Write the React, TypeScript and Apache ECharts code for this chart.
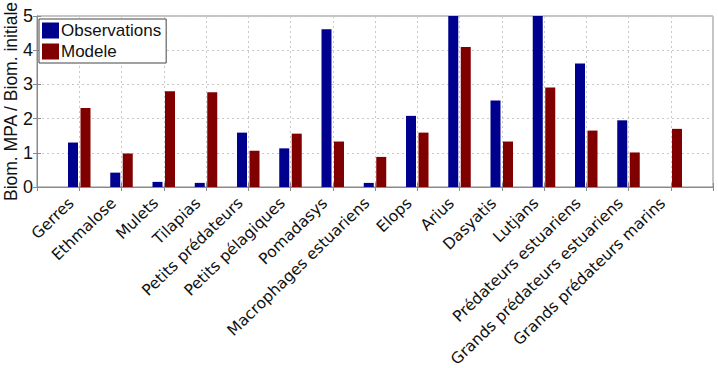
import React, { useEffect, useRef } from "react";
import * as echarts from "echarts";

// Species groups, placed at x = 1..15 on a 0..16 value axis
const groups = [
  "Gerres",
  "Ethmalose",
  "Mulets",
  "Tilapias",
  "Petits prédateurs",
  "Petits pélagiques",
  "Pomadasys",
  "Macrophages estuariens",
  "Elops",
  "Arius",
  "Dasyatis",
  "Lutjans",
  "Prédateurs estuariens",
  "Grands prédateurs estuariens",
  "Grands prédateurs marins",
];

// Ratio of MPA biomass to initial biomass
const observations = [1.3, 0.42, 0.15, 0.12, 1.59, 1.13, 4.61, 0.12, 2.08, 5.4, 2.53, 5.3, 3.61, 1.95, 0];
const modele = [2.31, 0.98, 2.8, 2.77, 1.06, 1.56, 1.33, 0.88, 1.59, 4.09, 1.33, 2.91, 1.65, 1.01, 1.7];

const yTicks = [0, 1, 2, 3, 4, 5];

const FONT = "'Liberation Sans', Arial, Helvetica, sans-serif";
const WIDE_FONT = "'DejaVu Sans', 'Liberation Sans', sans-serif";

export default function App() {
  const ref = useRef<HTMLDivElement>(null);

  useEffect(() => {
    if (!ref.current) return;
    const chart = echarts.init(ref.current, null, { renderer: "svg" });

    const dotted = { type: [2, 3] as number[], color: "#c8c8c8", width: 1 };
    const axisLine = { show: true, lineStyle: { color: "#8a8a8a", width: 1 } };
    const tick = { show: true, inside: true, length: 4, lineStyle: { color: "#8a8a8a" } };

    chart.setOption({
      animation: false,
      textStyle: { fontFamily: FONT },
      grid: {
        left: 37,
        right: 5,
        top: 16,
        bottom: 181,
        outerBoundsMode: "none",
        containLabel: false,
        show: true,
        borderColor: "#8a8a8a",
        borderWidth: 1,
      },
      legend: {
        orient: "vertical",
        left: 39,
        top: 19,
        itemWidth: 17,
        itemHeight: 16,
        itemGap: 4,
        icon: "rect",
        padding: [3, 5, 3, 3],
        borderColor: "#444",
        borderWidth: 1,
        backgroundColor: "#fff",
        textStyle: { fontFamily: FONT, fontSize: 17, color: "#111", padding: [0, 0, 0, -3] },
        data: ["Observations", "Modele"],
      },
      xAxis: [
        {
          type: "value",
          min: 0,
          max: 16,
          interval: 1,
          axisLine,
          axisTick: tick,
          splitLine: { show: true, lineStyle: dotted },
          axisLabel: {
            rotate: 44,
            margin: 6,
            padding: [0, 11, 0, 0],
            fontSize: 15.6,
            color: "#111",
            fontFamily: WIDE_FONT,
            showMinLabel: true,
            showMaxLabel: true,
            formatter: (v: number) => groups[v - 1] ?? "",
          },
        },
        {
          type: "value",
          position: "top",
          min: 0,
          max: 16,
          interval: 1,
          axisLine,
          axisTick: tick,
          axisLabel: { show: false },
          splitLine: { show: false },
        },
      ],
      yAxis: [
        {
          type: "value",
          min: yTicks[0],
          max: yTicks[yTicks.length - 1],
          interval: 1,
          name: "Biom. MPA / Biom. initiale",
          nameLocation: "middle",
          nameGap: 17,
          nameMoveOverlap: false,
          nameTextStyle: { fontSize: 17.5, color: "#111", fontFamily: FONT },
          axisLine,
          axisTick: tick,
          splitLine: { show: true, lineStyle: dotted },
          axisLabel: { margin: 4, fontSize: 18, color: "#111", fontFamily: FONT },
        },
        {
          type: "value",
          position: "right",
          min: yTicks[0],
          max: yTicks[yTicks.length - 1],
          interval: 1,
          axisLine,
          axisTick: tick,
          axisLabel: { show: false },
          splitLine: { show: false },
        },
      ],
      series: [
        {
          name: "Observations",
          type: "bar",
          xAxisIndex: 0,
          yAxisIndex: 0,
          barWidth: 10,
          barGap: "25%",
          clip: true,
          itemStyle: { color: "#00008f" },
          data: observations.map((v, i) => [i + 1, v]),
        },
        {
          name: "Modele",
          type: "bar",
          xAxisIndex: 0,
          yAxisIndex: 0,
          barWidth: 10,
          barGap: "25%",
          clip: true,
          itemStyle: { color: "#800000" },
          data: modele.map((v, i) => [i + 1, v]),
        },
      ],
    });

    return () => chart.dispose();
  }, []);

  return (
    <div
      ref={ref}
      style={{ position: "absolute", left: 0, top: 0, width: 718, height: 368 }}
    />
  );
}
